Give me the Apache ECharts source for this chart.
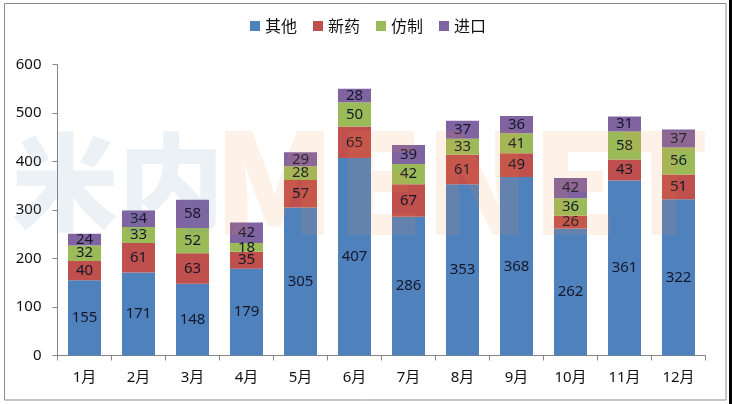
<!DOCTYPE html>
<html>
<head>
    <meta charset="utf-8">
    <title>月度统计</title>
    <style>
        html, body { margin: 0; padding: 0; background: #fff; }
        #main { width: 732px; height: 404px; }
    </style>
    <script src="https://cdn.jsdelivr.net/npm/echarts@6/dist/echarts.min.js"></script>
</head>
<body>
<div id="main"></div>
<script type="text/javascript">
var myChart = echarts.init(document.getElementById('main'));

var months = ['1月','2月','3月','4月','5月','6月','7月','8月','9月','10月','11月','12月'];
var other  = [155,171,148,179,305,407,286,353,368,262,361,322];
var newDrug = [40,61,63,35,57,65,67,61,49,26,43,51];
var generic = [32,33,52,18,28,50,42,33,41,36,58,56];
var imported = [24,34,58,42,29,28,39,37,36,42,31,37];

var fontFamily = '"Noto Sans", "Noto Sans CJK SC", sans-serif';

// 四个系列除了名字、数据、颜色之外都一样
function makeSeries(name, data, color) {
    return {
        name: name,
        type: 'bar',
        stack: 'total',
        barWidth: 33,
        data: data,
        itemStyle: { color: color },
        label: {
            show: true,
            position: 'inside',
            color: '#14182a',
            fontSize: 15,
            fontFamily: fontFamily
        }
    };
}

// 水印
function watermark(x, text, fill, size) {
    return {
        type: 'text',
        silent: true,
        z: 50,
        x: x,
        y: 182,
        style: {
            text: text,
            fill: fill,
            opacity: 0.12,
            font: '900 ' + size + 'px "Noto Sans CJK SC", sans-serif',
            textVerticalAlign: 'middle'
        }
    };
}

myChart.setOption({
    animation: false,
    backgroundColor: '#fff',
    textStyle: { fontFamily: fontFamily },
    color: ['#4f81bd', '#c0504d', '#9bbb59', '#8064a2'],
    legend: {
        left: 245,
        top: 13,
        itemWidth: 10,
        itemHeight: 10,
        itemGap: 16,
        icon: 'rect',
        textStyle: { fontSize: 16, color: '#111', fontFamily: '"Noto Sans CJK SC", sans-serif' },
        data: ['其他', '新药', '仿制', '进口']
    },
    grid: { left: 57.5, right: 26.5, top: 64.5, bottom: 48.5, containLabel: false },
    xAxis: {
        type: 'category',
        data: months,
        boundaryGap: true,
        axisLine: { lineStyle: { color: '#868686', width: 1 } },
        axisTick: { show: true, alignWithLabel: false, length: 5, lineStyle: { color: '#868686' } },
        axisLabel: { color: '#111', fontSize: 15, margin: 15, interval: 0, fontFamily: fontFamily }
    },
    yAxis: {
        type: 'value',
        min: 0,
        max: 600,
        interval: 100,
        axisLine: { show: true, lineStyle: { color: '#868686', width: 1 } },
        axisTick: { show: true, length: 5, lineStyle: { color: '#868686' } },
        splitLine: { show: false },
        axisLabel: { color: '#111', fontSize: 15, margin: 16, fontFamily: fontFamily }
    },
    series: [
        makeSeries('其他', other, '#4f81bd'),
        makeSeries('新药', newDrug, '#c0504d'),
        makeSeries('仿制', generic, '#9bbb59'),
        makeSeries('进口', imported, '#8064a2')
    ],
    graphic: [
        // 外框和右边的黑边
        { type: 'rect', silent: true, z: 40, shape: { x: 4.5, y: 3.5, width: 721.5, height: 396.5 },
          style: { fill: 'none', stroke: '#8c8c8c', lineWidth: 1 } },
        { type: 'rect', silent: true, z: 40, shape: { x: 729, y: 0, width: 3, height: 404 },
          style: { fill: '#000' } },
        watermark(12, '米内', '#5b8fb0', 106),
        watermark(213, 'MENET', '#f5893a', 140)
    ]
});
</script>
</body>
</html>
